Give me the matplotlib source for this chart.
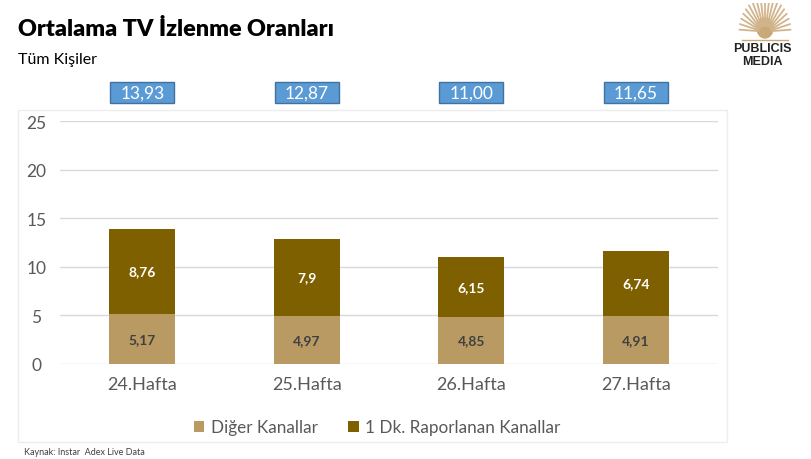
import numpy as np
import matplotlib.pyplot as plt
import matplotlib.patches as mpatches

plt.rcParams['font.family'] = ['Lato', 'DejaVu Sans']

# Data
weeks = ['24.Hafta', '25.Hafta', '26.Hafta', '27.Hafta']
diger = [5.17, 4.97, 4.85, 4.91]
rapor = [8.76, 7.9, 6.15, 6.74]
rapor_labels = ['8,76', '7,9', '6,15', '6,74']
totals = ['13,93', '12,87', '11,00', '11,65']

C_DIGER = '#B89A62'
C_RAPOR = '#7F6000'
C_BOX = '#5B9BD5'

fig = plt.figure(figsize=(8.12, 4.60), dpi=100)
ax = fig.add_axes([60 / 812, 1 - 365 / 460, 658 / 812, 243 / 460])

x = np.arange(len(weeks))
ax.bar(x, diger, width=0.4, color=C_DIGER, zorder=3, label='Diğer Kanallar')
ax.bar(x, rapor, width=0.4, bottom=diger, color=C_RAPOR, zorder=3,
       label='1 Dk. Raporlanan Kanallar')

trans = ax.get_xaxis_transform()
for i in range(len(weeks)):
    ax.text(x[i], diger[i] / 2, f'{diger[i]:.2f}'.replace('.', ','),
            ha='center', va='center', fontsize=10, fontweight='bold',
            color='#404040', zorder=4)
    ax.text(x[i], diger[i] + rapor[i] / 2, rapor_labels[i],
            ha='center', va='center', fontsize=10, fontweight='bold',
            color='white', zorder=4)
    # total boxes above plot
    ax.add_patch(mpatches.Rectangle((x[i] - 0.195, 1.074), 0.39, 0.086,
                                    transform=trans, fc=C_BOX, ec='#41719C',
                                    lw=1.0, clip_on=False))
    ax.text(x[i], 1.117, totals[i], transform=trans,
            ha='center', va='center', fontsize=12.5, color='white')

ax.set_xlim(-0.5, 3.5)
ax.set_ylim(0, 25)
ax.set_yticks([0, 5, 10, 15, 20, 25])
ax.set_xticks(x)
ax.set_xticklabels(weeks)
ax.tick_params(axis='y', length=0, labelsize=12.5, labelcolor='#595959', pad=17)
ax.tick_params(axis='x', length=0, labelsize=13, labelcolor='#595959', pad=9)
for lab in ax.get_yticklabels():
    lab.set_horizontalalignment('center')
ax.grid(axis='y', color='#D9D9D9', lw=1.0, zorder=0)
for s in ax.spines.values():
    s.set_visible(False)

leg = ax.legend(loc='upper center', bbox_to_anchor=(0.482, -0.165), ncol=2,
                frameon=False, fontsize=12.3, handlelength=0.6, handleheight=0.6,
                handletextpad=0.4, columnspacing=1.8)
for t in leg.get_texts():
    t.set_color('#595959')

# chart frame
fig.patches.append(mpatches.Rectangle((18 / 812, 1 - 443 / 460), 709 / 812, 332 / 460,
                                      transform=fig.transFigure, fill=False,
                                      ec='#EDEDED', lw=1.0))

# titles
fig.text(18 / 812, 1 - 30 / 460, 'Ortalama TV İzlenme Oranları', fontsize=16.8,
         fontweight='heavy', va='center', ha='left', color='black')
fig.text(18 / 812, 1 - 60 / 460, 'Tüm Kişiler', fontsize=11.5,
         va='center', ha='left', color='black')
fig.text(24 / 812, 1 - 453 / 460, 'Kaynak: Instar  Adex Live Data', fontsize=6.5,
         va='center', ha='left', color='#404040')

# logo
lax = fig.add_axes([738 / 812, 1 - 44 / 460, 54 / 812, 40 / 460])
lax.set_xlim(-1, 1)
lax.set_ylim(-0.1, 1.1)
lax.axis('off')
ang = np.linspace(0.05, np.pi - 0.05, 19)
for a in ang:
    lax.plot([0.25 * np.cos(a), 0.95 * np.cos(a)], [0.25 + 0.8 * np.sin(a) * 0.2, 0.25 + 1.0 * np.sin(a)],
             color='#D2B48C', lw=1.3, solid_capstyle='round')
lax.add_patch(mpatches.Circle((0, 0.35), 0.3, color='#C9A97A'))
lax.plot([-0.85, 0.85], [0.0, 0.0], color='#C9A97A', lw=1.0)
fig.text(762 / 812, 1 - 49 / 460, 'PUBLICIS', fontsize=9, fontweight='bold',
         ha='center', va='center', color='#222222', family=['Liberation Sans'])
fig.text(762 / 812, 1 - 62 / 460, 'MEDIA', fontsize=9, fontweight='bold',
         ha='center', va='center', color='#222222', family=['Liberation Sans'])

fig.savefig('out.png', dpi=100)
